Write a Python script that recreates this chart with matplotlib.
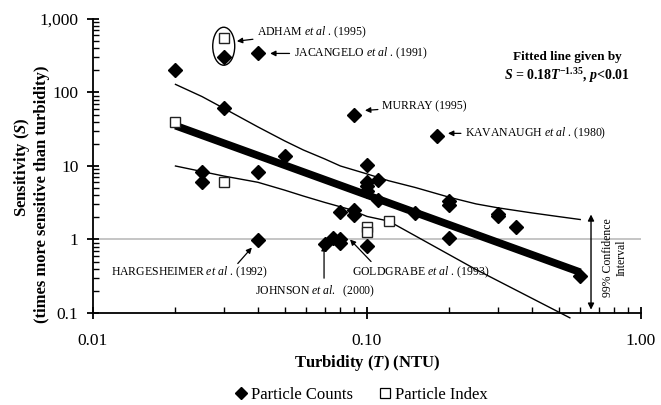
import matplotlib
matplotlib.use("Agg")
import matplotlib.pyplot as plt
import numpy as np
from matplotlib.lines import Line2D
from matplotlib.patches import Ellipse
from matplotlib.transforms import ScaledTranslation
from matplotlib.ticker import FixedLocator, FixedFormatter, LogLocator, NullFormatter

plt.rcParams['font.family'] = ['Liberation Serif', 'DejaVu Serif']
plt.rcParams['mathtext.fontset'] = 'custom'
plt.rcParams['mathtext.rm'] = 'Liberation Serif'
plt.rcParams['mathtext.it'] = 'Liberation Serif:italic'
plt.rcParams['mathtext.bf'] = 'Liberation Serif:bold'
plt.rcParams['mathtext.bfit'] = 'Liberation Serif:bold:italic'

# ---- data ----
counts_T = [0.02, 0.025, 0.025, 0.03, 0.03, 0.04, 0.04, 0.04, 0.05, 0.07,
            0.075, 0.08, 0.08, 0.08, 0.09, 0.09, 0.09, 0.1, 0.1, 0.1,
            0.1, 0.1, 0.11, 0.11, 0.15, 0.18, 0.2, 0.2, 0.2, 0.3,
            0.3, 0.35, 0.6]
counts_S = [200, 8.2, 6.0, 300, 61, 340, 8.4, 0.97, 13.7, 0.87,
            1.05, 2.35, 1.02, 0.9, 50, 2.55, 2.15, 10.3, 6.1, 5.3,
            4.6, 0.81, 6.5, 3.5, 2.3, 25.5, 3.3, 2.95, 1.05, 2.2,
            2.1, 1.47, 0.32]
index_T = [0.02, 0.03, 0.03, 0.1, 0.1, 0.12]
index_S = [40, 6.0, 550, 1.5, 1.27, 1.8]

fit_coef = 0.18
fit_exp = -1.35
fit_T = np.array([0.02, 0.6])

upper_T = [0.02, 0.025, 0.03, 0.04, 0.05, 0.0586, 0.07, 0.08, 0.1, 0.12, 0.15, 0.2, 0.25, 0.3, 0.4, 0.5, 0.6]
upper_S = [129, 88, 61, 34, 22, 16.5, 12.5, 10.0, 7.8, 6.3, 5.1, 3.75, 3.05, 2.7, 2.3, 2.05, 1.87]
lower_T = [0.02, 0.03, 0.04, 0.05, 0.0586, 0.07, 0.0867, 0.1, 0.12, 0.25, 0.55]
lower_S = [10.0, 7.3, 6.0, 4.7, 3.9, 3.2, 2.56, 2.06, 1.78, 0.39, 0.086]

y_ticks = [0.1, 1, 10, 100, 1000]
y_ticklabels = ['0.1', '1', '10', '100', '1,000']
x_ticks = [0.01, 0.1, 1.0]
x_ticklabels = ['0.01', '0.10', '1.00']

# ---- figure ----
fig = plt.figure(figsize=(6.61, 4.05), dpi=100)
ax = fig.add_axes([93/661, 1-313/405, 548/661, 294/405])
ax.set_xscale('log')
ax.set_yscale('log')
ax.set_xlim(0.01, 1.0)
ax.set_ylim(0.1, 1000)

ax.axhline(1, color='#c0c0c0', lw=1.3, zorder=1)

ax.plot(upper_T, upper_S, color='black', lw=1.0, zorder=2)
ax.plot(lower_T, lower_S, color='black', lw=1.0, zorder=2, clip_on=False)
ax.plot(fit_T, fit_coef * fit_T ** fit_exp, color='black', lw=5.5, zorder=3,
        solid_capstyle='butt')

ax.plot(counts_T, counts_S, linestyle='none', marker='D', markersize=7,
        color='black', zorder=4)
ax.plot(index_T, index_S, linestyle='none', marker='s', markersize=7.5,
        markerfacecolor='white', markeredgecolor='#222222', markeredgewidth=1.0,
        zorder=5)

for s in ['top', 'right']:
    ax.spines[s].set_visible(False)
for s in ['left', 'bottom']:
    ax.spines[s].set_linewidth(1.3)

ax.yaxis.set_major_locator(FixedLocator(y_ticks))
ax.yaxis.set_major_formatter(FixedFormatter(y_ticklabels))
ax.xaxis.set_major_locator(FixedLocator(x_ticks))
ax.xaxis.set_major_formatter(FixedFormatter(x_ticklabels))
ax.yaxis.set_minor_locator(LogLocator(base=10, subs=np.arange(2, 10)))
ax.xaxis.set_minor_locator(LogLocator(base=10, subs=np.arange(2, 10)))
ax.yaxis.set_minor_formatter(NullFormatter())
ax.xaxis.set_minor_formatter(NullFormatter())
ax.tick_params(axis='both', which='major', direction='inout', length=9,
               width=1.3, labelsize=12.5)
ax.tick_params(axis='both', which='minor', direction='in', length=4, width=1.0)
ax.tick_params(axis='x', which='major', pad=10)
ax.tick_params(axis='y', which='major', pad=6)

# axis labels
fig.text(367/661, 1-363/405, r'Turbidity ($\mathbfit{T}$) (NTU)', fontsize=12,
         fontweight='bold', ha='center', va='center')
fig.text(22/661, 1-167/405, r'Sensitivity ($\mathbfit{S}$)', fontsize=12,
         fontweight='bold', ha='center', va='center', rotation=90)
fig.text(42/661, 1-194/405, '(times more sensitive than turbidity)', fontsize=12,
         fontweight='bold', ha='center', va='center', rotation=90)

# fitted line text
fig.text(567/661, 1-57/405, 'Fitted line given by', fontsize=9.5,
         fontweight='bold', ha='center', va='center')
fig.text(567/661, 1-76/405,
         r'$\mathbfit{S}$ = 0.18$\mathbfit{T}^{\mathbf{-1.35}}$, $\mathbfit{p}$<0.01',
         fontsize=10, fontweight='bold', ha='center', va='center')

# annotations
afs = 8.5
arr = dict(arrowstyle='-|>', color='black', lw=0.9, mutation_scale=8,
           shrinkA=1, shrinkB=0)
ax.annotate(r'ADHAM $\mathit{et\ al}$ . (1995)', xy=(0.0335, 499),
            xytext=(0.0397, 661), fontsize=afs, ha='left', va='center',
            arrowprops=arr)
ax.annotate(r'JACANGELO $\mathit{et\ al}$ . (1991)', xy=(0.0443, 340),
            xytext=(0.054, 340), fontsize=afs, ha='left', va='center',
            arrowprops=arr)
ax.annotate('MURRAY (1995)', xy=(0.0983, 57),
            xytext=(0.1135, 65), fontsize=afs, ha='left', va='center',
            arrowprops=arr)
ax.annotate(r'KAVANAUGH $\mathit{et\ al}$ . (1980)', xy=(0.1975, 27.8),
            xytext=(0.228, 27.8), fontsize=afs, ha='left', va='center',
            arrowprops=arr)
ax.text(0.0225, 0.355, r'HARGESHEIMER $\mathit{et\ al}$ . (1992)', fontsize=afs,
        ha='center', va='center')
ax.annotate('', xy=(0.0380, 0.778), xytext=(0.0335, 0.456), arrowprops=arr)
ax.text(0.039, 0.196, r'JOHNSON $\mathit{et\ al.}$  (2000)', fontsize=afs,
        ha='left', va='center')
ax.annotate('', xy=(0.0697, 0.84), xytext=(0.0697, 0.285), arrowprops=arr)
ax.text(0.0881, 0.355, r'GOLDGRABE $\mathit{et\ al}$ . (1993)', fontsize=afs,
        ha='left', va='center')
ax.annotate('', xy=(0.0867, 1.0), xytext=(0.1043, 0.486), arrowprops=arr)

# ellipse around ADHAM points
tr = fig.dpi_scale_trans + ScaledTranslation(0.03, 426, ax.transData)
ax.add_patch(Ellipse((0, 0), 0.22, 0.38, transform=tr, fill=False,
                     edgecolor='black', lw=1.0, clip_on=False))

# confidence interval arrow
ax.annotate('', xy=(0.657, 2.19), xytext=(0.657, 0.111),
            arrowprops=dict(arrowstyle='<|-|>', color='black', lw=1.0,
                            mutation_scale=9, shrinkA=0, shrinkB=0),
            annotation_clip=False)
fig.text(615/661, 1-258/405, '99% Confidence\nInterval', fontsize=8.5,
         rotation=90, ha='center', va='center', multialignment='center')

# legend
handles = [Line2D([], [], marker='D', color='black', linestyle='none',
                  markersize=6),
           Line2D([], [], marker='s', markerfacecolor='white',
                  markeredgecolor='black', linestyle='none', markersize=7.5,
                  markeredgewidth=0.9)]
fig.legend(handles, ['Particle Counts', 'Particle Index'], loc='center',
           bbox_to_anchor=(362/661, 1-395/405), ncol=2, frameon=False,
           fontsize=12, handlelength=0.6, handletextpad=0.3, columnspacing=1.6)

fig.savefig('out.png', dpi=100)
